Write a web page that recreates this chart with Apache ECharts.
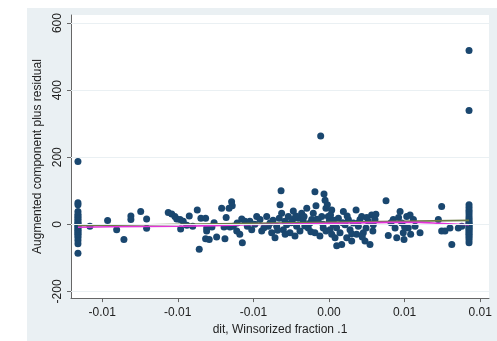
<!DOCTYPE html>
<html>
<head>
<meta charset="utf-8">
<style>
  html, body { margin: 0; padding: 0; background: #ffffff; }
  #chart { width: 497px; height: 341px; }
</style>
<script src="https://cdn.jsdelivr.net/npm/echarts@6/dist/echarts.min.js"></script>
</head>
<body>
<div id="chart"></div>
<script>
// dit values in thousandths (per mille); residual values as plotted
const xLeftCluster = -16.6;
const yLeftCluster = [187, 64, 58, 38, 30, 25, 20, 15, 10, 5, 2, -2, -6, -10, -14, -18, -22, -26, -30, -35, -40, -48, -58, -86];

const xRightCluster = 9.26;
const yRightCluster = [518, 339, 58, 50, 42, 35, 28, 20, 14, 8, 3, 0, -4, -8, -12, -16, -20, -25, -30, -35, -40, -47, -55];

const xMid = [
  -15.81, -14.64, -14.04, -13.56, -13.10, -13.10, -12.45, -12.06, -12.06, -10.63,
  -10.40, -10.19, -10.07, -9.85, -9.81, -9.64, -9.24, -9.01, -8.71, -8.58,
  -8.47, -8.16, -8.09, -8.09, -8.16, -7.92, -7.74, -7.43, -7.10, -6.94,
  -6.88, -6.61, -6.44, -6.40, -6.55, -6.33, -6.10, -6.07, -5.77, -5.73,
  -5.56, -5.40, -5.23, -5.11, -4.78, -4.56, -4.45, -4.12, -4.01, -3.90,
  -3.79, -3.57, -3.46, -3.29, -3.24, -3.17, -3.13, -3.02, -2.91, -2.80,
  -2.69, -2.58, -2.40, -2.36, -2.25, -2.14, -2.03, -1.92, -1.81, -1.70,
  -1.65, -1.47, -1.37, -1.26, -1.14, -1.04, -0.93, -0.93, -0.86, -0.71,
  -0.60, -0.55, -0.48, -0.38, -0.33, -0.26, -0.20, -0.11, -0.05, 0.02,
  0.07, 0.18, 0.18, 0.28, 0.40, 0.51, 0.62, 0.73, 0.84, 0.95,
  1.06, 1.17, 1.28, 1.39, 1.50, 1.61, 1.79, 1.83, 1.94, 2.05,
  2.16, 2.27, 2.38, 2.45, 2.60, 2.71, 2.82, 2.93, 3.04, 3.77,
  3.92, 4.25, 4.37, 4.48, 4.70, 4.81, 4.91, 4.96, 5.14, 5.24,
  5.36, 5.58, 5.69, 6.02, 7.23, 7.45, 7.45, 7.67, 8.00, 8.12,
  8.55, 8.78,
  -4.9, -4.3, -3.7, -3.4, -2.9, -2.5, -2.2, -1.6, -1.2, -0.8,
  -0.4, -0.2, 0.1, 0.3, 0.5, 0.9, 1.2, 1.5, 1.9, 2.2,
  2.5, 2.9, 3.1, -7.6, -6.8, -5.9, -9.4, 4.1, 4.6, 5.0, 5.4
];
const yMid = [
  -6, 11, -16, -45, 25, 14, 38, 16, -12, 35,
  31, 23, 16, 14, -14, 9, 25, -6, 43, -74,
  18, 18, -11, -20, -43, -45, -8, -38, 48, -8,
  -43, 48, 67, 55, -8, -6, -20, 4, 16, -55,
  9, -6, 9, -16, 23, 14, -20, 23, -6, 4,
  -25, -40, -6, 18, 58, 100, 33, -16, 9, -1,
  23, -25, 14, 40, -35, -6, 18, -20, 33, 9,
  23, 48, -11, 4, 14, 33, 97, -25, 55, 9,
  -35, 263, 23, -11, 90, 72, 48, 58, 23, 9,
  -16, 43, -30, -1, -40, -64, 18, -25, -60, 38,
  -1, -40, 14, -16, -50, 4, 43, -30, -6, 14,
  23, -25, -50, -11, 9, -60, 28, -1, 14, 70,
  -33, 14, -11, -40, 38, 4, -25, -45, 23, -11,
  28, 14, -6, -25, 14, 53, -20, -20, -11, -60,
  -11, -6,
  0, -10, 12, -18, -30, 5, 25, -5, -22, 15,
  0, -20, 28, 12, -10, 5, 25, -28, 3, -38,
  20, -20, 30, 5, 20, -30, -3, 5, 20, -8, -30
];

// linear fit end points
const fitX = [-16.6, 9.26];
const fitY = [-4.4, 11.7];

// lowess smooth
const lowessX = [-16.6, -14.5, -9.9, -5.3, 0.1, 4.0, 6.0, 7.3, 9.26];
const lowessY = [-8.8, -7.3, -5.9, -1.5, 2.9, 5.9, 5.9, 2.9, -1.5];

// axis ticks and their printed labels
const xTickValues = [-15, -10, -5, 0, 5, 10];
const xTickLabels = ['-0.01', '-0.01', '-0.01', '0.00', '0.01', '0.01'];
const yTickValues = [-200, 0, 200, 400, 600];

const points = [];
yLeftCluster.forEach(v => points.push([xLeftCluster, v]));
yRightCluster.forEach(v => points.push([xRightCluster, v]));
xMid.forEach((x, i) => points.push([x, yMid[i]]));

const fitData = fitX.map((x, i) => [x, fitY[i]]);
const lowessData = lowessX.map((x, i) => [x, lowessY[i]]);

const font = 'Liberation Sans, Arial, sans-serif';
const chart = echarts.init(document.getElementById('chart'));

chart.setOption({
  backgroundColor: '#ffffff',
  animation: false,
  graphic: [{
    type: 'rect',
    z: -10,
    shape: { x: 27, y: 8, width: 470, height: 333 },
    style: { fill: '#eaf0f3' }
  }],
  grid: {
    left: 71, right: 8, top: 15, bottom: 38,
    show: true, backgroundColor: '#ffffff', borderWidth: 0
  },
  xAxis: {
    type: 'value',
    min: -17.06, max: 10.58,
    name: 'dit, Winsorized fraction .1',
    nameLocation: 'middle',
    nameGap: 25,
    nameTextStyle: { fontFamily: font, fontSize: 12, color: '#222' },
    axisLine: { show: true, onZero: false, lineStyle: { color: '#666', width: 1 } },
    axisTick: { show: true, length: 4, customValues: xTickValues, lineStyle: { color: '#666' } },
    axisLabel: {
      customValues: xTickValues,
      margin: 9,
      fontFamily: font, fontSize: 12, color: '#222',
      formatter: v => {
        const i = xTickValues.indexOf(v);
        return i >= 0 ? xTickLabels[i] : '';
      }
    },
    splitLine: { show: false }
  },
  yAxis: {
    type: 'value',
    min: -220, max: 624,
    name: 'Augmented component plus residual',
    nameLocation: 'middle',
    nameGap: 15,
    nameTextStyle: { fontFamily: font, fontSize: 12, color: '#222' },
    axisLine: { show: true, onZero: false, lineStyle: { color: '#666', width: 1 } },
    axisTick: { show: true, length: 4, customValues: yTickValues, lineStyle: { color: '#666' } },
    axisLabel: {
      customValues: yTickValues,
      rotate: 90,
      margin: 7,
      fontFamily: font, fontSize: 12, color: '#222'
    },
    splitLine: { show: false }
  },
  series: [
    {
      type: 'line',
      data: [],
      silent: true,
      markLine: {
        silent: true,
        symbol: 'none',
        label: { show: false },
        lineStyle: { color: '#eaf0f3', width: 1, type: 'solid' },
        data: yTickValues.map(v => ({ yAxis: v }))
      },
      z: 0
    },
    {
      type: 'scatter',
      data: points,
      symbolSize: 7,
      itemStyle: { color: '#1a476f', opacity: 1 },
      z: 2
    },
    {
      type: 'line',
      data: fitData,
      symbol: 'none',
      lineStyle: { color: '#6b7a45', width: 1.6 },
      z: 3
    },
    {
      type: 'line',
      data: lowessData,
      symbol: 'none',
      smooth: 0.3,
      lineStyle: { color: '#e233d8', width: 1.6 },
      z: 4
    }
  ]
});
</script>
</body>
</html>
